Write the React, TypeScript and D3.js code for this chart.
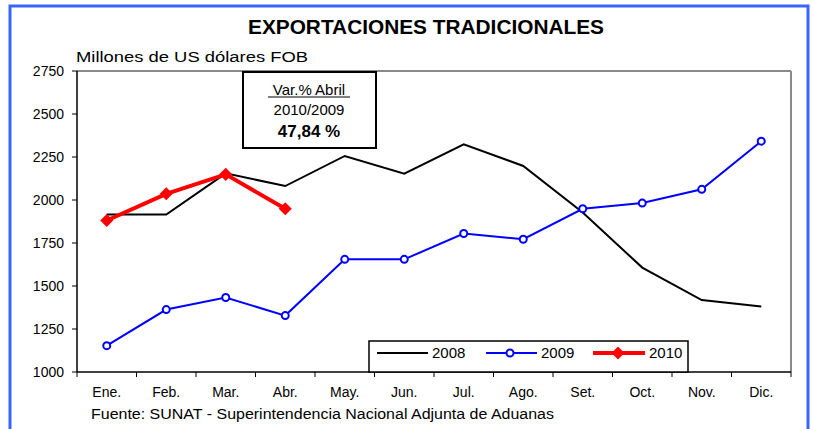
import React from "react";
import * as d3 from "d3";

const months = ["Ene.", "Feb.", "Mar.", "Abr.", "May.", "Jun.", "Jul.", "Ago.", "Set.", "Oct.", "Nov.", "Dic."];
const s2008 = [1916, 1916, 2155, 2081, 2256, 2153, 2324, 2198, 1927, 1607, 1418, 1381];
const s2009 = [1153, 1363, 1433, 1328, 1655, 1655, 1805, 1772, 1949, 1982, 2062, 2342];
const s2010 = [1881, 2036, 2149, 1949];
const yTicks = [1000, 1250, 1500, 1750, 2000, 2250, 2500, 2750];
const seriesNames = ["2008", "2009", "2010"];

const FONT = "Arial, 'Liberation Sans', sans-serif";

export default function App() {
  const W = 813, H = 429;
  const left = 77, right = 791, top = 71, bottom = 372;
  const x = d3.scaleBand<string>().domain(months).range([left, right]);
  const y = d3.scaleLinear().domain([1000, 2750]).range([bottom, top]);
  const cx = (m: string) => (x(m) as number) + x.bandwidth() / 2;

  const line = d3.line<number>().x((_, i) => cx(months[i])).y((v) => y(v));
  const diamond = d3.symbol().type(d3.symbolSquare).size(85);

  const lx = 369, ly = 341, lw = 319, lh = 31;
  const legendY = 353;

  return (
    <svg width={W} height={H} style={{ position: "absolute", left: 0, top: 0, background: "#fff" }} fontFamily={FONT}>
      <rect x={0} y={0} width={W} height={H} fill="#fff" />
      <rect x={10} y={6} width={798} height={450} fill="none" stroke="#3a64ff" strokeWidth={3} />
      <text x={426} y={34} textAnchor="middle" fontSize={21} fontWeight="bold" textLength={356} lengthAdjust="spacingAndGlyphs">EXPORTACIONES TRADICIONALES</text>
      <text x={76} y={62} fontSize={14} textLength={232} lengthAdjust="spacingAndGlyphs">Millones de US dólares FOB</text>

      {/* plot frame */}
      <line x1={left} x2={right} y1={top} y2={top} stroke="#8a8a8a" strokeWidth={2} />
      <line x1={right} x2={right} y1={top} y2={bottom} stroke="#8a8a8a" strokeWidth={2} />
      <line x1={left} x2={left} y1={top} y2={bottom} stroke="#000" strokeWidth={1.5} />
      <line x1={left} x2={right} y1={bottom} y2={bottom} stroke="#000" strokeWidth={1.5} />

      {yTicks.map((t) => (
        <g key={t}>
          <line x1={left - 5} x2={left} y1={y(t)} y2={y(t)} stroke="#000" strokeWidth={1} />
          <text x={64} y={y(t) + 5} textAnchor="end" fontSize={14}>{t}</text>
        </g>
      ))}
      {months.map((m, i) => (
        <g key={m}>
          <line x1={x(m) as number} x2={x(m) as number} y1={bottom} y2={bottom + 5} stroke="#000" strokeWidth={1} />
          {i === months.length - 1 && (
            <line x1={right} x2={right} y1={bottom} y2={bottom + 5} stroke="#000" strokeWidth={1} />
          )}
          <text x={cx(m)} y={397} textAnchor="middle" fontSize={14}>{m}</text>
        </g>
      ))}
      <text x={91} y={419} fontSize={14} textLength={463} lengthAdjust="spacingAndGlyphs">Fuente: SUNAT - Superintendencia Nacional Adjunta de Aduanas</text>

      {/* annotation box */}
      <rect x={243} y={72} width={133} height={76} fill="#fff" stroke="#000" strokeWidth={2} />
      <text x={309} y={95} textAnchor="middle" fontSize={15}>Var.% Abril</text>
      <line x1={268} x2={350} y1={97} y2={97} stroke="#000" strokeWidth={1} />
      <text x={309} y={115} textAnchor="middle" fontSize={15}>2010/2009</text>
      <text x={309} y={137} textAnchor="middle" fontSize={17} fontWeight="bold">47,84 %</text>

      {/* series */}
      <path d={line(s2008) || ""} fill="none" stroke="#000" strokeWidth={2} />
      <path d={line(s2009) || ""} fill="none" stroke="#0000ff" strokeWidth={2} />
      {s2009.map((v, i) => (
        <circle key={i} cx={cx(months[i])} cy={y(v)} r={3.5} fill="#fff" stroke="#0000ff" strokeWidth={2} />
      ))}
      <path d={line(s2010) || ""} fill="none" stroke="#ff0000" strokeWidth={4} />
      {s2010.map((v, i) => (
        <path key={i} d={diamond() || ""} transform={`translate(${cx(months[i])},${y(v)}) rotate(45)`} fill="#ff0000" />
      ))}

      {/* legend */}
      <rect x={lx} y={ly} width={lw} height={lh} fill="#fff" stroke="#000" strokeWidth={1.5} />
      <line x1={377} x2={428} y1={legendY} y2={legendY} stroke="#000" strokeWidth={2} />
      <text x={432} y={legendY + 5} fontSize={15}>{seriesNames[0]}</text>
      <line x1={486} x2={537} y1={legendY} y2={legendY} stroke="#0000ff" strokeWidth={2} />
      <circle cx={510} cy={legendY} r={3.5} fill="#fff" stroke="#0000ff" strokeWidth={2} />
      <text x={541} y={legendY + 5} fontSize={15}>{seriesNames[1]}</text>
      <line x1={593} x2={645} y1={legendY} y2={legendY} stroke="#ff0000" strokeWidth={4} />
      <path d={diamond() || ""} transform={`translate(618,${legendY}) rotate(45)`} fill="#ff0000" />
      <text x={649} y={legendY + 5} fontSize={15}>{seriesNames[2]}</text>
    </svg>
  );
}
